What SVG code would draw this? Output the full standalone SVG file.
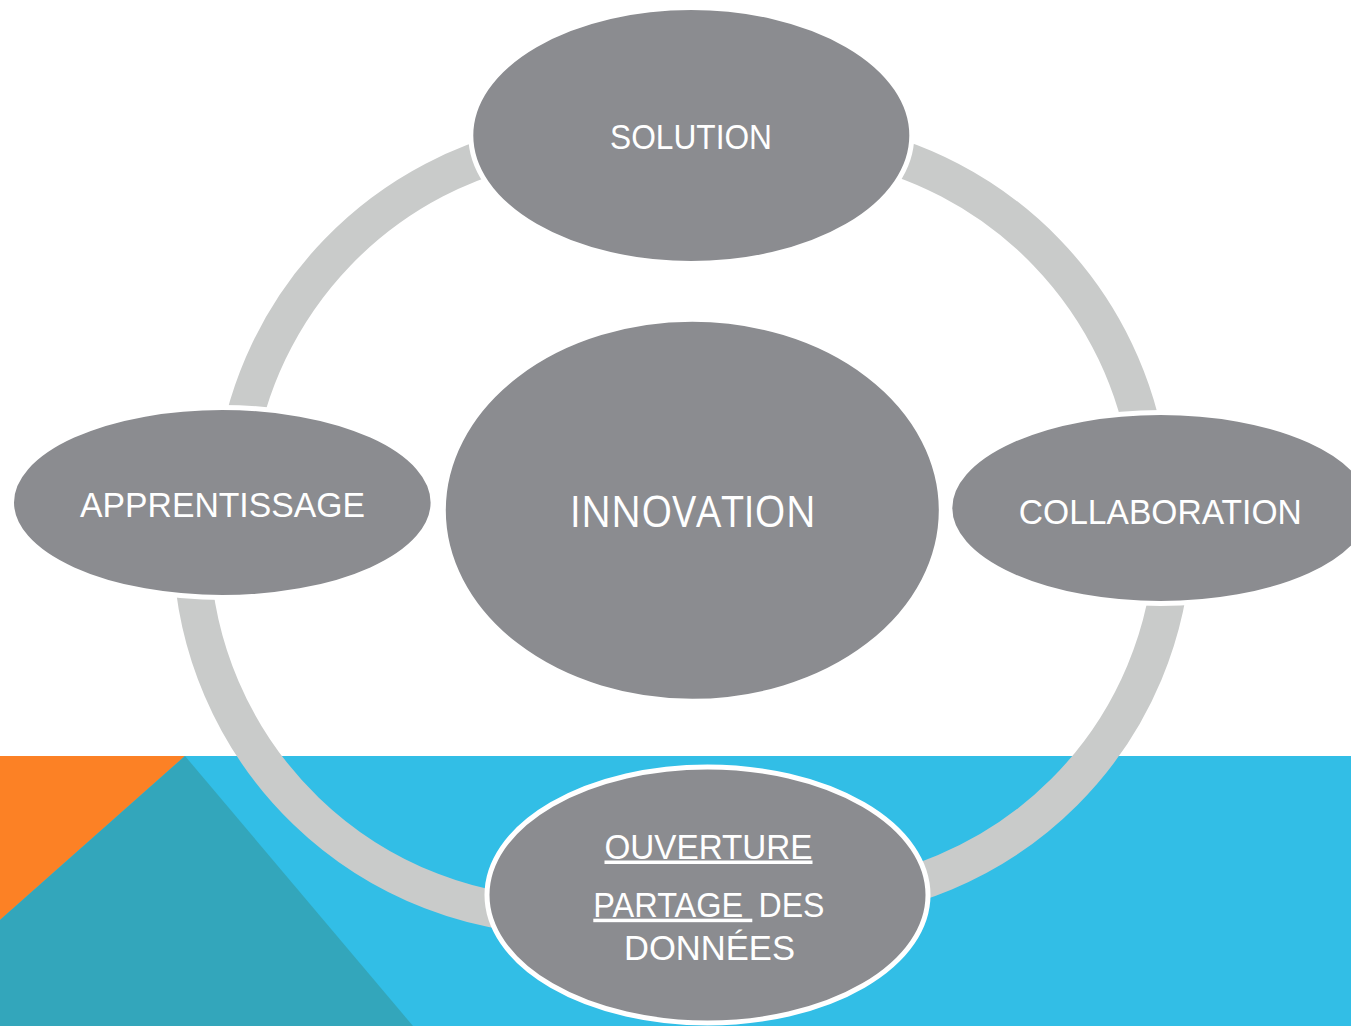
<svg xmlns="http://www.w3.org/2000/svg" width="1351" height="1026" viewBox="0 0 1351 1026">
  <style>
    .node { fill: #8B8C90; stroke: #FFFFFF; stroke-width: 5; }
    .ring { fill: none; stroke: #C9CBCA; stroke-width: 37; stroke-linecap: butt; }
    .lbl { fill: #FFFFFF; font-family: "Liberation Sans Narrow", "Liberation Sans", Arial, sans-serif; font-size: 35px; text-anchor: middle; }
    .lbs { fill: #FFFFFF; font-family: "Liberation Sans Narrow", "Liberation Sans", Arial, sans-serif; font-size: 35px; text-anchor: start; }
    .big { fill: #FFFFFF; font-family: "Open Sans", "Noto Sans", sans-serif; font-size: 44px; text-anchor: middle; }
  </style>
  <g id="background">
    <rect x="0" y="0" width="1351" height="1026" fill="#FFFFFF"/>
    <rect x="0" y="756" width="1351" height="270" fill="#32BEE6"/>
    <polygon points="0,756 185,756 0,920" fill="#FC8125"/>
    <polygon points="185,756 0,920 0,1026 413,1026" fill="#33A6BB"/>
  </g>
  <g id="connectors">
    <path class="ring" d="M542.7,143.2 A376,376 0 0 0 235.7,461.2"/>
    <path class="ring" d="M841.3,143.2 A376,376 0 0 1 1148.3,461.2"/>
    <path class="ring" d="M191.5,553.8 A375.7,375.7 0 0 0 567,916.4"/>
    <path class="ring" d="M1173.1,541.7 A372.5,372.5 0 0 1 813.8,901"/>
  </g>
  <g id="node-innovation">
    <ellipse class="node" cx="692.3" cy="510.3" rx="249" ry="191"/>
    <text class="big" x="692.8" y="527" textLength="246" lengthAdjust="spacingAndGlyphs">INNOVATION</text>
  </g>
  <g id="node-solution">
    <ellipse class="node" cx="691.3" cy="135.5" rx="220.5" ry="128"/>
    <text class="lbl" x="691" y="149" textLength="162" lengthAdjust="spacingAndGlyphs">SOLUTION</text>
  </g>
  <g id="node-apprentissage">
    <ellipse class="node" cx="222.3" cy="502.5" rx="210.8" ry="95"/>
    <text class="lbl" x="222.5" y="516.7" textLength="285" lengthAdjust="spacingAndGlyphs">APPRENTISSAGE</text>
  </g>
  <g id="node-collaboration">
    <ellipse class="node" cx="1160.6" cy="508" rx="210.8" ry="95.5"/>
    <text class="lbl" x="1160.3" y="523.5" textLength="283" lengthAdjust="spacingAndGlyphs">COLLABORATION</text>
  </g>
  <g id="node-ouverture">
    <ellipse class="node" cx="707.5" cy="895" rx="220.5" ry="128"/>
    <text class="lbl" x="708.5" y="858.5" textLength="208" lengthAdjust="spacingAndGlyphs" text-decoration="underline">OUVERTURE</text>
    <text class="lbs" x="593.3" y="916.7" textLength="159" lengthAdjust="spacingAndGlyphs" text-decoration="underline">PARTAGE&#160;</text>
    <text class="lbs" x="758.5" y="916.7" textLength="66" lengthAdjust="spacingAndGlyphs">DES</text>
    <text class="lbl" x="709.5" y="960" textLength="171" lengthAdjust="spacingAndGlyphs">DONNÉES</text>
  </g>
</svg>
